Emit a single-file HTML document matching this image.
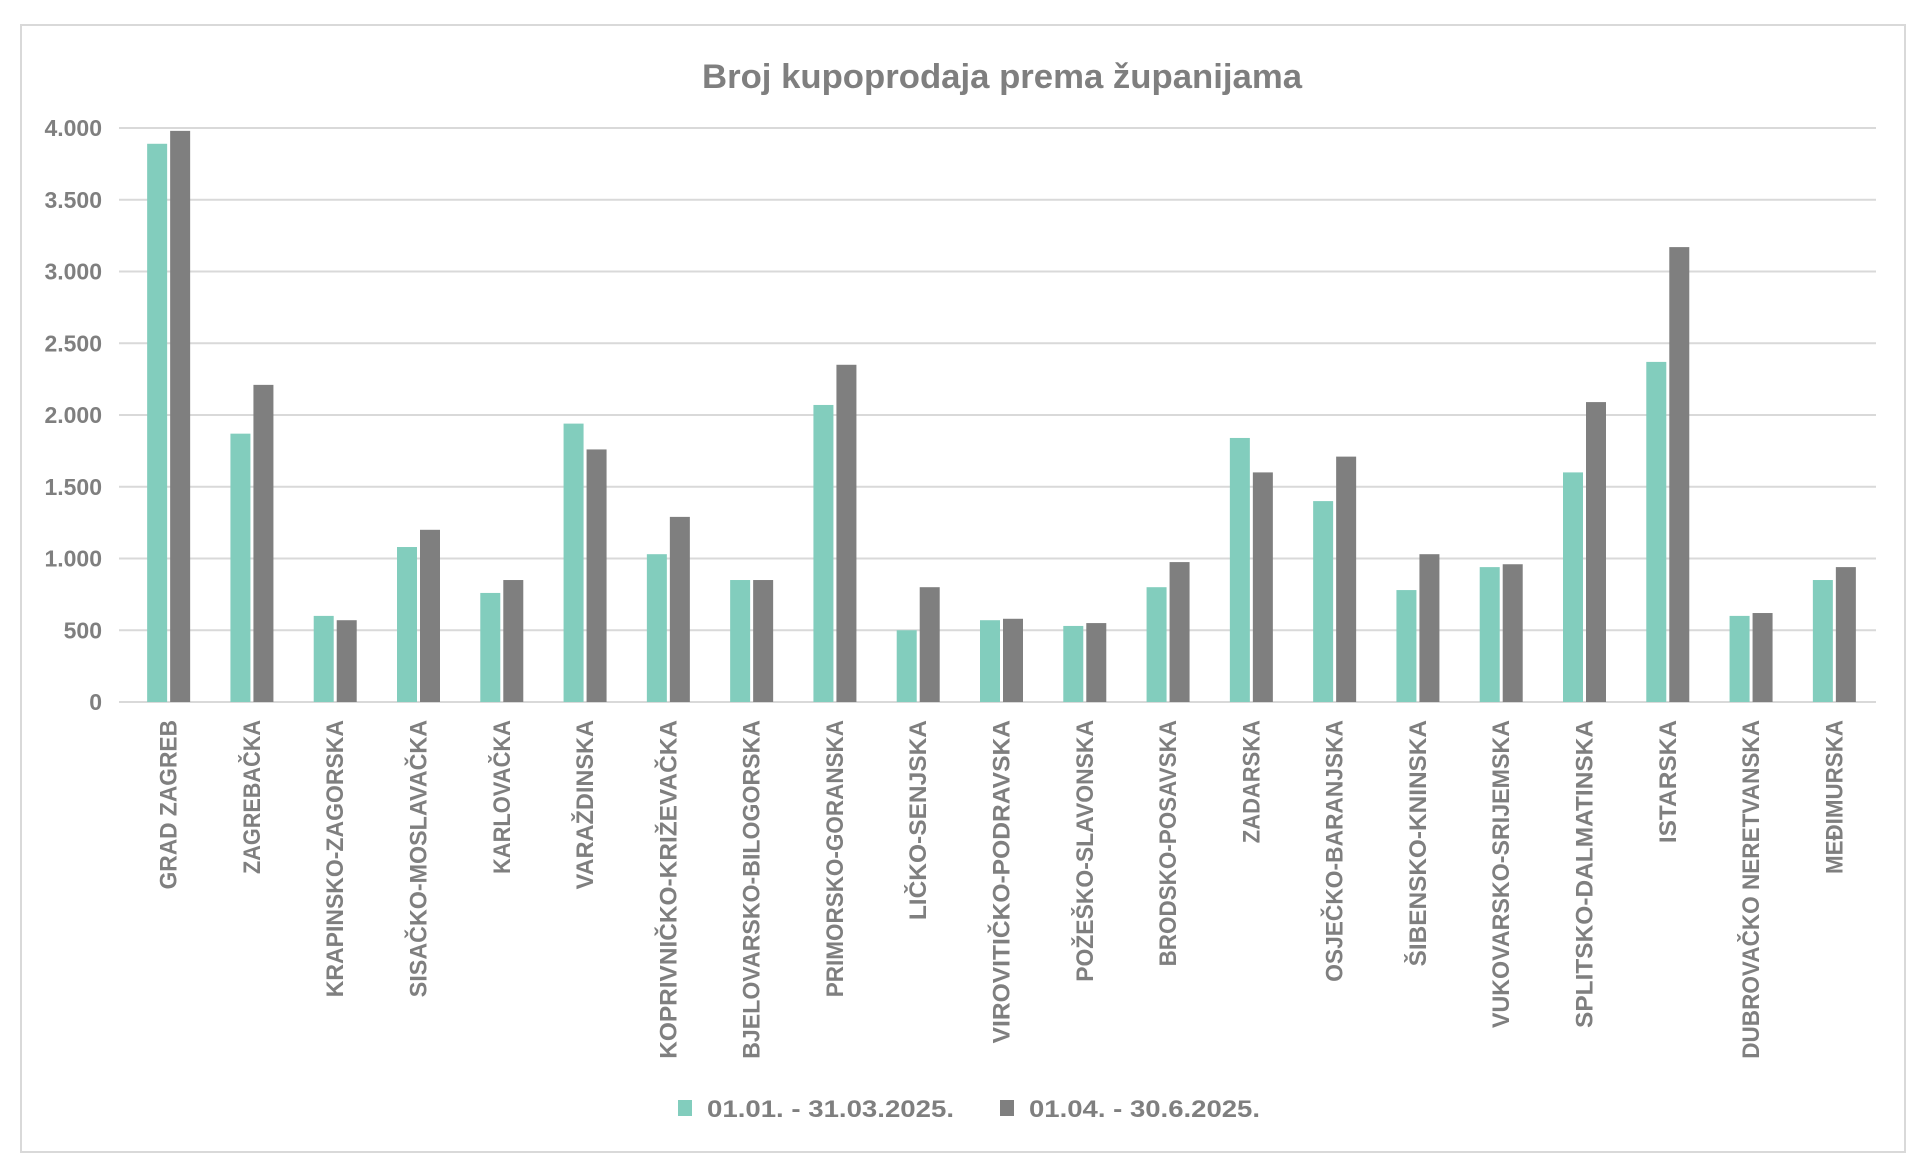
<!DOCTYPE html>
<html><head><meta charset="utf-8"><style>
html,body{margin:0;padding:0;background:#fff;}
svg{display:block;font-family:"Liberation Sans",sans-serif;}
</style></head><body>
<svg id="chart" width="1928" height="1172" viewBox="0 0 1928 1172">
<rect x="21" y="25" width="1884" height="1127" fill="#fff" stroke="#d9d9d9" stroke-width="2"/>
<text x="1002" y="88" text-anchor="middle" font-size="34" font-weight="bold" fill="#7f7f7f" textLength="600" lengthAdjust="spacingAndGlyphs">Broj kupoprodaja prema županijama</text>
<g id="grid"></g><g id="bars"></g><g id="xlabels"></g><g id="ylabels"></g>
<g>
<rect x="678" y="1100" width="14" height="16" fill="#82cdbd"/>
<text x="707" y="1117" font-size="24" font-weight="bold" fill="#7f7f7f" textLength="247" lengthAdjust="spacingAndGlyphs">01.01. - 31.03.2025.</text>
<rect x="1000" y="1100" width="14" height="16" fill="#7f7f7f"/>
<text x="1029" y="1117" font-size="24" font-weight="bold" fill="#7f7f7f" textLength="231" lengthAdjust="spacingAndGlyphs">01.04. - 30.6.2025.</text>
</g>
</svg>
<script>
const categories = ["GRAD ZAGREB","ZAGREBAČKA","KRAPINSKO-ZAGORSKA","SISAČKO-MOSLAVAČKA","KARLOVAČKA","VARAŽDINSKA","KOPRIVNIČKO-KRIŽEVAČKA","BJELOVARSKO-BILOGORSKA","PRIMORSKO-GORANSKA","LIČKO-SENJSKA","VIROVITIČKO-PODRAVSKA","POŽEŠKO-SLAVONSKA","BRODSKO-POSAVSKA","ZADARSKA","OSJEČKO-BARANJSKA","ŠIBENSKO-KNINSKA","VUKOVARSKO-SRIJEMSKA","SPLITSKO-DALMATINSKA","ISTARSKA","DUBROVAČKO NERETVANSKA","MEĐIMURSKA"];
const seriesQ1 = [3890,1870,600,1080,760,1940,1030,850,2070,500,570,530,800,1840,1400,780,940,1600,2370,600,850];
const seriesQ2 = [3980,2210,570,1200,850,1760,1290,850,2350,800,580,550,975,1600,1710,1030,960,2090,3170,620,940];
const yTicks = [0,500,1000,1500,2000,2500,3000,3500,4000];
const yTickLabels = ["0","500","1.000","1.500","2.000","2.500","3.000","3.500","4.000"];

const NS="http://www.w3.org/2000/svg";
const plotL=127, plotR=1876, plotT=128, plotB=702, yMax=4000;
const band=(plotR-plotL)/categories.length;
const y=v=>plotB-(v/yMax)*(plotB-plotT);
const xc=i=>plotL+band*(i+0.5);
function mk(tag,attrs,parent){const e=document.createElementNS(NS,tag);for(const k in attrs)e.setAttribute(k,attrs[k]);parent.appendChild(e);return e;}
const grid=document.getElementById('grid'),bars=document.getElementById('bars'),xl=document.getElementById('xlabels'),yl=document.getElementById('ylabels');
yTicks.forEach((t,i)=>{
  const l=mk('line',{x1:119,x2:plotR,y1:y(t),y2:y(t),stroke:'#d9d9d9','stroke-width':2},grid);
  
  
  const tx=mk('text',{x:102,y:y(t)+8,'text-anchor':'end','font-size':23,'font-weight':'bold',fill:'#7f7f7f'},yl);
  tx.textContent=yTickLabels[i];
  
  
});
const bw=20, gap=3;
categories.forEach((c,i)=>{
  const cx=xc(i);
  const b1=mk('rect',{x:cx-gap/2-bw,y:y(seriesQ1[i]),width:bw,height:plotB-y(seriesQ1[i]),fill:'#82cdbd'},bars);
  
  
  const b2=mk('rect',{x:cx+gap/2,y:y(seriesQ2[i]),width:bw,height:plotB-y(seriesQ2[i]),fill:'#7f7f7f'},bars);
  
  
  const t=mk('text',{x:0,y:0,transform:`translate(${cx+8},720) rotate(-90)`,'text-anchor':'end','font-size':24,'font-weight':'bold',fill:'#7f7f7f',textLength:c.length*15.4,lengthAdjust:'spacingAndGlyphs'},xl);
  t.textContent=c;
  
  
});
</script>
</body></html>
